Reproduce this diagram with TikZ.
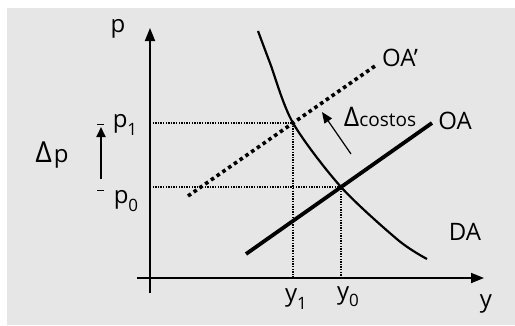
\documentclass[tikz,border=0pt]{standalone}
\usepackage{fontspec}
\setmainfont{Open Sans}
\usetikzlibrary{arrows.meta, positioning}
\definecolor{Panel}{HTML}{E6E6E6}
\newcommand{\lowidx}[1]{\raisebox{-0.3em}{\fontsize{17}{17}\selectfont #1}}

\begin{document}
\begin{tikzpicture}[x=1pt, y=-1pt,
    axis/.style={line width=1.8pt, -{Triangle[length=13pt, width=10pt]}},
    dparr/.style={line width=1.8pt, -{Triangle[length=10pt, width=9pt]}},
    thinarr/.style={line width=1.2pt, -{Triangle[length=11pt, width=9pt]}},
    demand/.style={line width=2.2pt},
    supply/.style={line width=3.8pt},
    newsupply/.style={line width=3.6pt, dash pattern=on 3.6pt off 3.4pt},
    guide/.style={line width=1.3pt, dash pattern=on 1.3pt off 1.3pt},
    lbl/.style={font=\fontsize{24}{24}\selectfont, inner sep=0pt}
]
\useasboundingbox (0,0) rectangle (515,325);
\fill[Panel] (7,8) rectangle (515,325);

% axes
\coordinate (ybot) at (150,293);
\coordinate (ytop) at (150,28);
\coordinate (xleft) at (137,278);
\coordinate (xright) at (484,278);
\draw[axis] (ybot) -- (ytop);
\draw[axis] (xleft) -- (xright);

% equilibria
\coordinate (E1) at (293,123);
\coordinate (E0) at (341,187);
\coordinate (p1ax) at (150,123);
\coordinate (p0ax) at (150,187);
\coordinate (y1ax) at (293,278);
\coordinate (y0ax) at (341,278);
\draw[guide] (p1ax) -- (E1) -- (y1ax);
\draw[guide] (p0ax) -- (E0) -- (y0ax);

% curves
\draw[demand] plot[smooth] coordinates {(258,31) (270,63) (293,123) (341,187) (398,240) (427,259)};
\coordinate (OAstart) at (246,254);
\coordinate (OAend) at (432,123);
\draw[supply] (OAstart) -- (OAend);
\coordinate (OA2start) at (188,196);
\coordinate (OA2end) at (375,66);
\draw[newsupply] (OA2start) -- (OA2end);

% labels
\node[lbl] (plab) at (118,29) {p};
\node[lbl] (ylab) at (486,304) {y};
\node[lbl] (p1) at (125,125) {p\lowidx{1}};
\node[lbl] (p0) at (126,201) {p\lowidx{0}};
\node[lbl] (y1) at (296,299) {y\lowidx{1}};
\node[lbl] (y0) at (348,297) {y\lowidx{0}};
\node[lbl] (OAp) at (400,58) {OA’};
\node[lbl] (OA) at (455,121) {OA};
\node[lbl] (DA) at (465,232) {DA};
\node[lbl] (dp) at (52,155) {{\fontsize{29}{29}\selectfont Δ}\kern2pt p};
\node[inner sep=0pt] (dcost) at (380,117) {\fontsize{27}{27}\selectfont Δ\fontsize{19}{19}\selectfont costos};

% ticks and shift arrows
\draw[line width=1pt] (97,124) -- (104,124);
\draw[line width=1pt] (97,190) -- (104,190);
\coordinate (dpfrom) at (101,179);
\coordinate (dpto) at (101,127);
\draw[dparr] (dpfrom) -- (dpto);
\coordinate (dcfrom) at (351,154);
\coordinate (dcto) at (322,112);
\draw[thinarr] (dcfrom) -- (dcto);

\end{tikzpicture}
\end{document}
